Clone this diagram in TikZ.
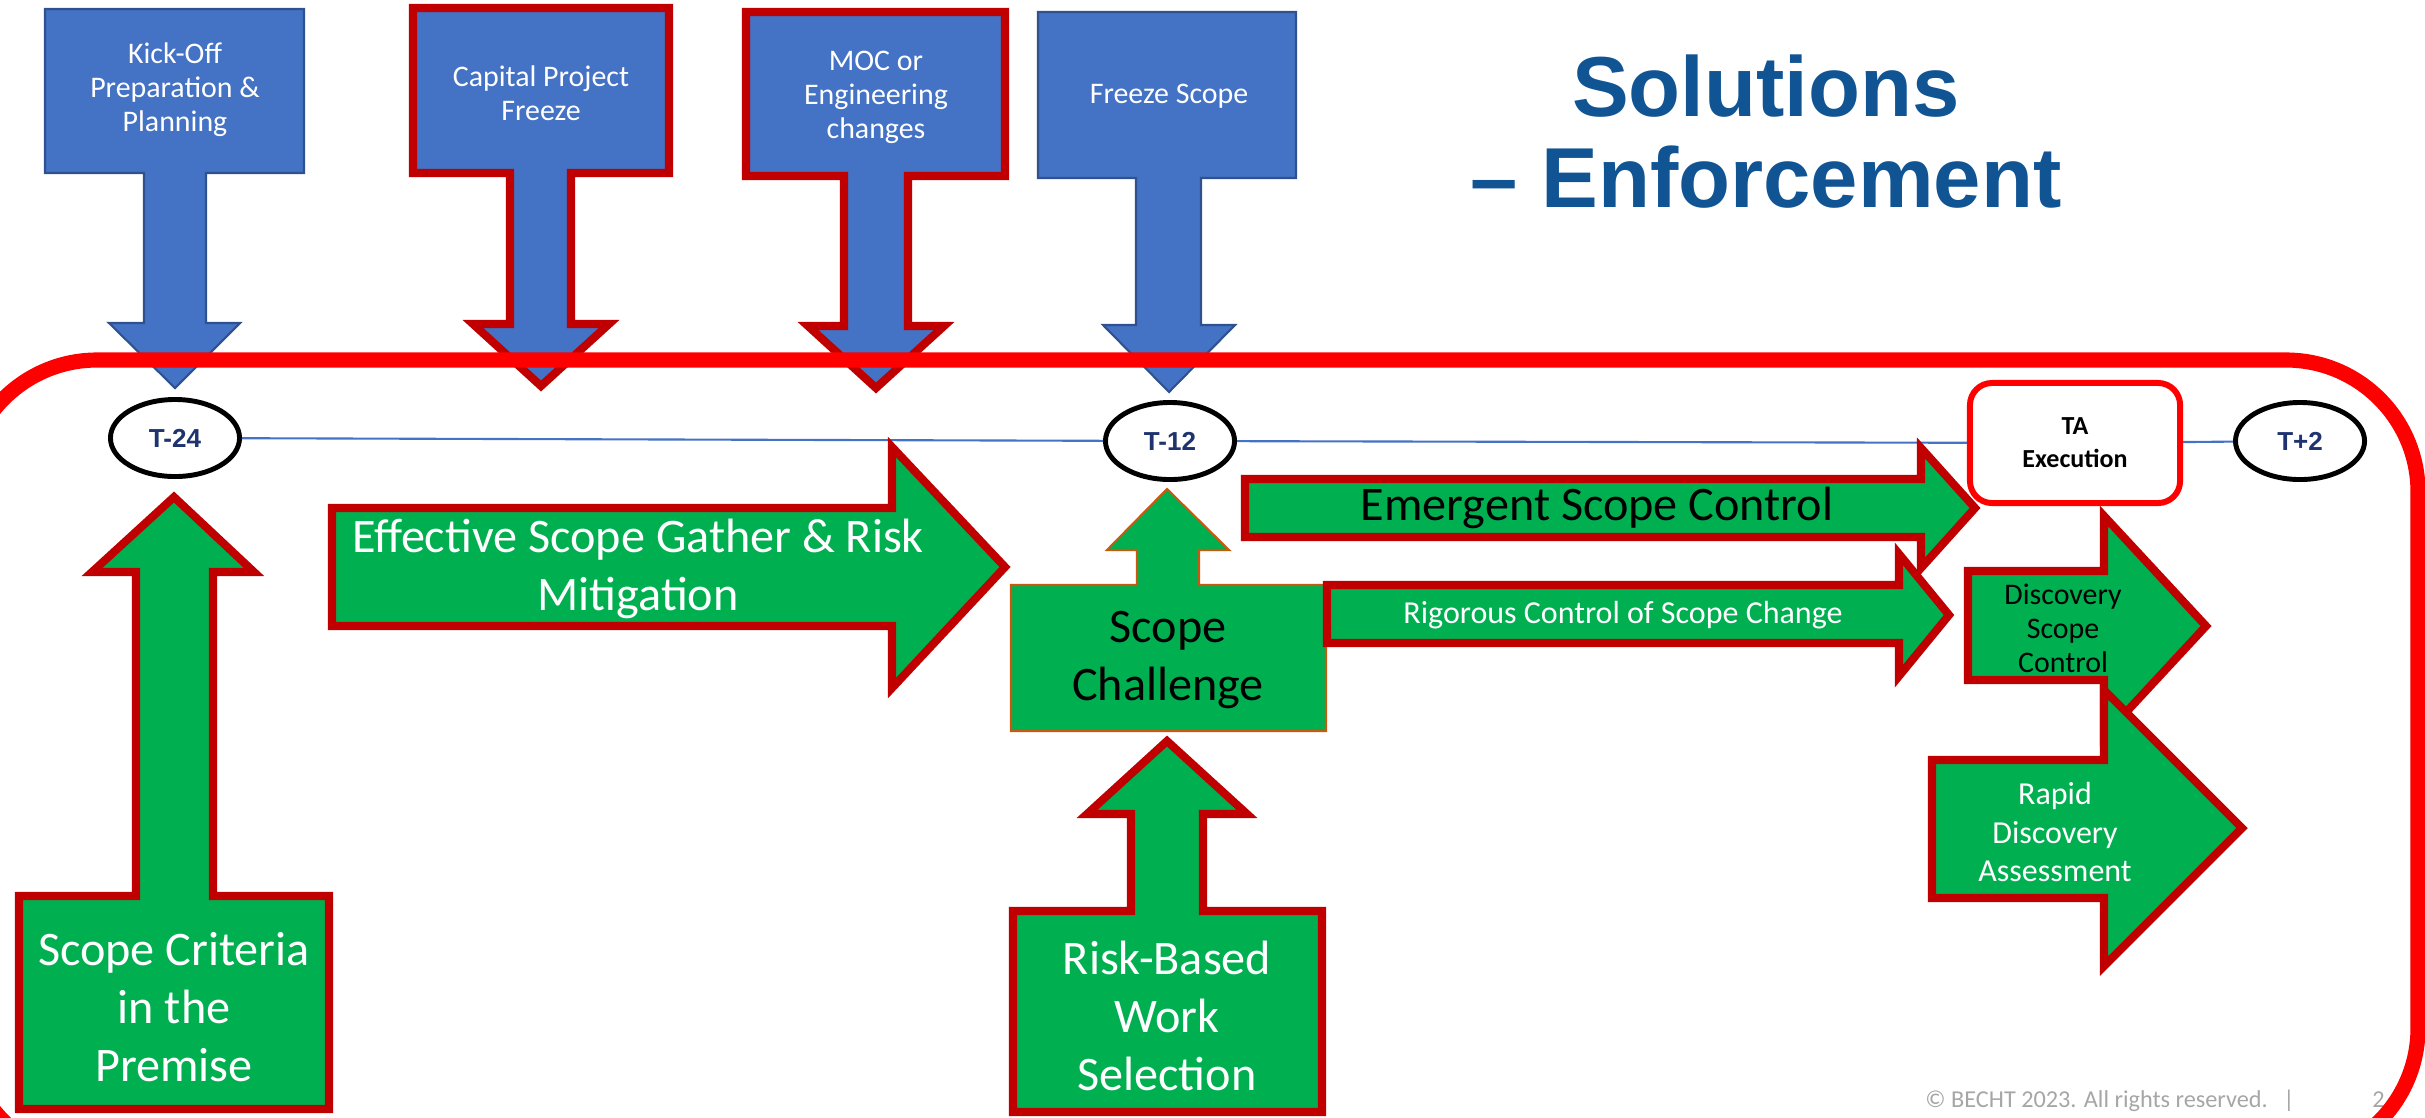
\documentclass[tikz,border=0pt]{standalone}
\usepackage{fontspec}
\setmainfont{Carlito}
\newfontfamily\arialfont{Liberation Sans}
\usepackage{tikz}
\usetikzlibrary{shapes.geometric}

\definecolor{boxblue}{RGB}{68,114,196}
\definecolor{edgeblue}{RGB}{47,82,143}
\definecolor{darkred}{RGB}{192,0,0}
\definecolor{arrowgreen}{RGB}{0,176,80}
\definecolor{titleblue}{RGB}{16,84,148}
\definecolor{navy}{RGB}{31,52,110}
\definecolor{challengeedge}{RGB}{197,90,17}
\definecolor{copygray}{RGB}{166,166,166}

\begin{document}
\begin{tikzpicture}[x=0.01cm,y=-0.01cm,
        bluebox/.style={fill=boxblue,draw=edgeblue,line width=0.6pt},
        redbluebox/.style={fill=boxblue,draw=darkred,line width=2.3pt},
        greenbox/.style={fill=arrowgreen,draw=darkred,line width=2.3pt},
        toptext/.style={text=white,align=center,font=\fontsize{8.5}{9.7}\selectfont},
        bigtext/.style={align=center,font=\fontsize{13.7}{16.4}\selectfont},
        midtext/.style={align=center,font=\fontsize{9.1}{11}\selectfont},
        smalltext/.style={align=center,font=\fontsize{8.5}{9.7}\selectfont},
        milestone/.style={shape=ellipse,draw=black,line width=1.4pt,fill=white,
            minimum width=1.29cm,minimum height=0.77cm,inner sep=0pt,text=navy,
            font=\arialfont\bfseries\fontsize{7.4}{8.9}\selectfont},
        tabox/.style={shape=rectangle,draw=red,line width=1.7pt,fill=white,rounded corners=0.22cm,
            minimum width=2.10cm,minimum height=1.20cm,align=center,
            font=\bfseries\fontsize{7.4}{9.4}\selectfont},
        timeline/.style={draw=boxblue,line width=0.6pt},
        titletext/.style={text=titleblue,font=\arialfont\bfseries\fontsize{24.2}{26}\selectfont},
        copytext/.style={text=copygray,font=\fontsize{6.9}{8}\selectfont}]
        \useasboundingbox (0,0) rectangle (2425,1117);
        \clip (0,0) rectangle (2425,1117);

        \draw[bluebox] (45,9) -- (304,9) -- (304,173) -- (206,173) -- (206,323) -- (240,323)
            -- (175,388) -- (109,323) -- (144,323) -- (144,173) -- (45,173) -- cycle;
        \node[toptext] (kickoff) at (175,90) {Kick-Off\\Preparation \&\\Planning};

        \draw[redbluebox] (413,8) -- (669,8) -- (669,173) -- (571,173) -- (571,324) -- (609,324)
            -- (541,386) -- (473,324) -- (510,324) -- (510,173) -- (413,173) -- cycle;
        \node[toptext] (capfreeze) at (541,93) {Capital Project\\Freeze};

        \draw[redbluebox] (746,12) -- (1005,12) -- (1005,176) -- (908,176) -- (908,326) -- (944,326)
            -- (876,388) -- (808,326) -- (844,326) -- (844,176) -- (746,176) -- cycle;
        \node[toptext] (moc) at (876,97) {MOC or\\Engineering\\changes};

        \draw[bluebox] (1038,12) -- (1296,12) -- (1296,178) -- (1201,178) -- (1201,325) -- (1235,325)
            -- (1169,392) -- (1103,325) -- (1136,325) -- (1136,178) -- (1038,178) -- cycle;
        \node[toptext] (freezescope) at (1169,96) {Freeze Scope};

        \node[titletext,anchor=base] (title1) at (1766,116) {Solutions};
        \node[titletext,anchor=base] (title2) at (1766,207) {\textendash{} Enforcement};

        \node[copytext,anchor=base west] (copyright) at (1913,1107) {© BECHT 2023. All rights reserved.};
        \node[copytext,anchor=base] (bar) at (2289,1107) {|};
        \node[copytext,anchor=base west] (page) at (2360,1107) {2};

        \draw[red,line width=4.3pt,rounded corners=1.32cm] (-35,360) rectangle (2418,1160);

        \node[milestone] (t24) at (175,438) {T-24};
        \node[milestone] (t12) at (1170,441) {T-12};
        \node[tabox] (ta) at (2075,443) {TA\\Execution};
        \node[milestone] (tp2) at (2300,441) {T+2};

        \path (t24) edge[timeline] (t12);
        \path (t12) edge[timeline] (ta);
        \path (ta) edge[timeline] (tp2);

        \draw[greenbox] (332,508) -- (892,508) -- (892,447) -- (1005,567) -- (892,688) -- (892,626)
            -- (332,626) -- cycle;
        \node[bigtext,text=white] (gather) at (638,569) {Effective Scope Gather \& Risk\\Mitigation};

        \draw[greenbox] (19,1109) -- (329,1109) -- (329,896) -- (213,896) -- (213,572) -- (254,572)
            -- (174,497) -- (92,572) -- (136,572) -- (136,896) -- (19,896) -- cycle;
        \node[bigtext,text=white] (criteria) at (174,1007) {Scope Criteria\\in the\\Premise};

        \draw[fill=arrowgreen,draw=challengeedge,line width=0.6pt] (1011,731) -- (1326,731) -- (1326,585)
            -- (1199,585) -- (1199,550) -- (1229,550) -- (1167,489) -- (1107,550) -- (1137,550)
            -- (1137,585) -- (1011,585) -- cycle;
        \node[bigtext] (challenge) at (1168,660) {Scope\\Challenge};

        \draw[greenbox] (1013,1112) -- (1322,1112) -- (1322,911) -- (1203,911) -- (1203,814) -- (1247,814)
            -- (1167,741) -- (1087,814) -- (1131,814) -- (1131,911) -- (1013,911) -- cycle;
        \node[bigtext,text=white] (riskbased) at (1167,1016) {Risk-Based\\Work\\Selection};

        \draw[greenbox] (1327,585) -- (1899,585) -- (1899,554) -- (1949,615) -- (1899,676) -- (1899,643)
            -- (1327,643) -- cycle;
        \node[midtext,text=white] (rigorous) at (1623,615) {Rigorous Control of Scope Change};

        \draw[greenbox] (1245,479) -- (1921,479) -- (1921,448) -- (1975,508) -- (1921,568) -- (1921,537)
            -- (1245,537) -- cycle;
        \node[bigtext] (emergent) at (1597,508) {Emergent Scope Control};

        \draw[greenbox] (1968,571) -- (2104,571) -- (2104,516) -- (2206,626) -- (2104,736) -- (2104,680)
            -- (1968,680) -- cycle;
        \node[smalltext] (discovery) at (2063,628) {Discovery\\Scope\\Control};

        \draw[greenbox] (1932,760) -- (2104,760) -- (2104,690) -- (2242,828) -- (2104,966) -- (2104,898)
            -- (1932,898) -- cycle;
        \node[midtext,text=white] (rapid) at (2055,832) {Rapid\\Discovery\\Assessment};
    \end{tikzpicture}
\end{document}
